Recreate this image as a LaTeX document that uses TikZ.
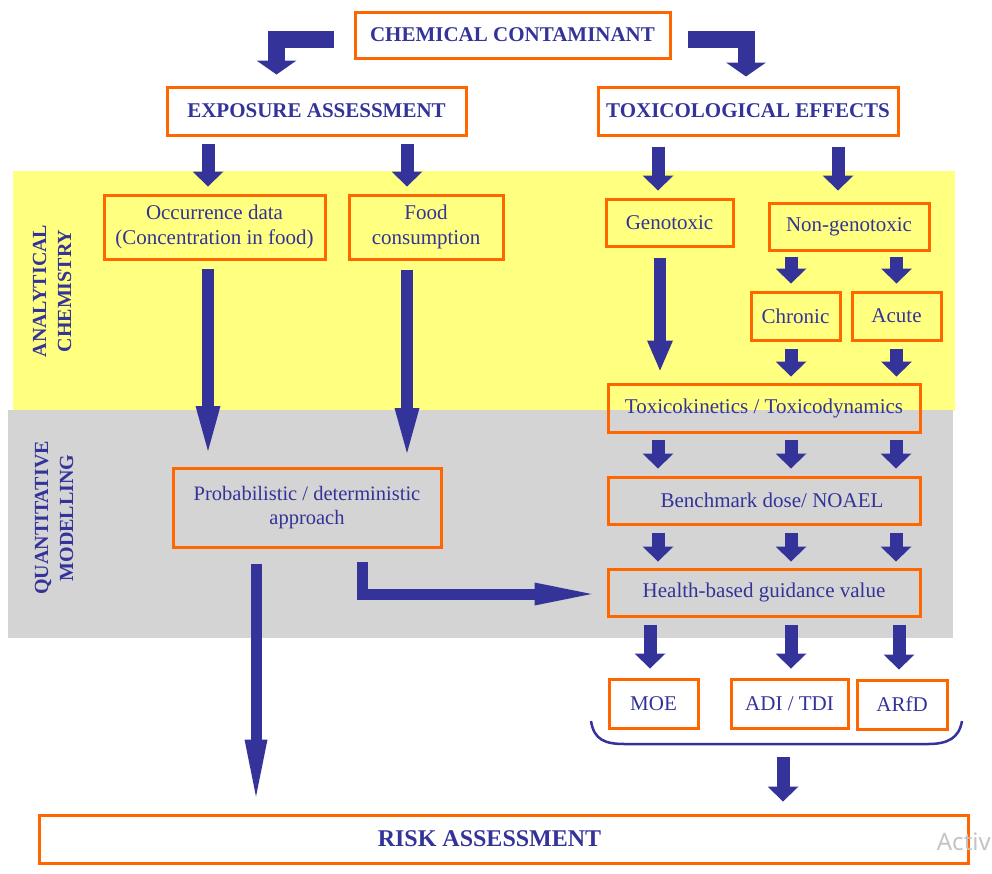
\documentclass[tikz,border=0pt]{standalone}
\usepackage{fontspec}
\setmainfont{Liberation Serif}
\newfontfamily\wmfont{Noto Sans}
\usetikzlibrary{arrows.meta,calc}
\definecolor{navy}{RGB}{51,51,153}
\definecolor{boxorange}{RGB}{255,102,0}
\definecolor{bandyellow}{RGB}{255,255,128}
\definecolor{bandgrey}{RGB}{212,212,212}
\definecolor{wmgrey}{RGB}{196,196,196}
\tikzset{
  box/.style={draw=boxorange, line width=3pt, inner sep=0pt, text=navy,
    align=center, font=\fontsize{21}{25}\selectfont},
  headbox/.style={box, font=\fontsize{21}{25}\selectfont\bfseries},
  bandlabel/.style={rotate=90, text=navy, align=center,
    font=\fontsize{20}{25}\selectfont\bfseries},
  % block arrows of various proportions
  bendarrow/.style={draw=navy, line width=17pt, line join=miter,
    -{Triangle[length=14pt,width=40pt,line width=0pt]}},
  shortarrow/.style={draw=navy, line width=13pt,
    -{Triangle[length=15pt,width=31pt,line width=0pt]}},
  longarrow/.style={draw=navy, line width=12pt,
    -{Triangle[length=45pt,width=25pt,line width=0pt]}},
  midarrow/.style={draw=navy, line width=12pt,
    -{Triangle[length=30pt,width=26pt,line width=0pt]}},
  thinarrow/.style={draw=navy, line width=11pt, line join=miter,
    -{Triangle[length=57pt,width=23pt,line width=0pt]}},
}
\begin{document}
\begin{tikzpicture}[x=1pt,y=-1pt]
\useasboundingbox (0,0) rectangle (992,873);
\fill[white] (0,0) rectangle (992,873);

% background bands
\fill[bandyellow] (13,171) rectangle (955,411);
\fill[bandgrey] (8,410) rectangle (953,638);

% band labels
\node[bandlabel] (labAC) at (52,291) {ANALYTICAL\\CHEMISTRY};
\node[bandlabel] (labQM) at (54,518) {QUANTITATIVE\\MODELLING};

% boxes
\node[headbox, minimum width=315pt, minimum height=46pt] (chem) at (512.5,35) {CHEMICAL CONTAMINANT};
\node[headbox, minimum width=299pt, minimum height=48pt] (expo) at (316.5,111) {EXPOSURE ASSESSMENT};
\node[headbox, minimum width=300pt, minimum height=48pt] (toxe) at (748,111) {TOXICOLOGICAL EFFECTS};

\node[box, minimum width=221pt, minimum height=64pt] (occ) at (214.5,227) {Occurrence data\\(Concentration in food)};
\node[box, minimum width=154pt, minimum height=64pt] (food) at (426,227) {Food\\consumption};
\node[box, minimum width=127pt, minimum height=47pt] (geno) at (669.5,222.5) {Genotoxic};
\node[box, minimum width=160pt, minimum height=47pt] (nong) at (849,226.5) {Non-genotoxic};
\node[box, minimum width=89pt, minimum height=48pt] (chron) at (795.5,316) {Chronic};
\node[box, minimum width=89pt, minimum height=48pt] (acute) at (896.5,316) {Acute};
\node[box, minimum width=312pt, minimum height=48pt] (tktd) at (764,408) {Toxicokinetics / Toxicodynamics};
\node[box, minimum width=312pt, minimum height=47pt] (bmd) at (764,500.5) {\hspace{16pt}Benchmark dose/ NOAEL};
\node[box, minimum width=312pt, minimum height=47pt] (hbgv) at (764,592.5) {Health-based guidance value};
\node[box, minimum width=89pt, minimum height=49pt] (moe) at (653.5,703.5) {MOE};
\node[box, minimum width=117pt, minimum height=49pt] (adi) at (789.5,703.5) {ADI / TDI};
\node[box, minimum width=90pt, minimum height=49pt] (arfd) at (902,704.5) {ARfD};
\node[box, minimum width=268pt, minimum height=79pt, font=\fontsize{20.5}{24}\selectfont] (prob) at (307,508) {Probabilistic / deterministic\\approach};
\node[headbox, minimum width=929pt, minimum height=48pt, font=\fontsize{24}{28}\selectfont\bfseries] (risk) at (503.5,839) {RISK ASSESSMENT\hspace{28pt}};

% brace under the reference values
\coordinate (braceL) at (591,721);
\coordinate (braceR) at (962,721);
\coordinate (braceM) at (776,744);
\draw[navy, line width=2.5pt]
  (braceL) .. controls (594,740) and (605,744) .. (625,744)
  -- (928,744) .. controls (948,744) and (959,738) .. (braceR);

% connectors
\draw[bendarrow] ($(chem.west)+(-20,4.5)$) -| ($(expo.north)+(-40,-11)$);
\draw[bendarrow] ($(chem.east)+(16,4.5)$) -| ($(toxe.north)+(-2,-9)$);

\draw[shortarrow] ($(expo.south)+(-108.5,7)$) -- ($(occ.north)+(-6.5,-7)$);
\draw[shortarrow] ($(expo.south)+(90.5,7)$) -- ($(food.north)+(-19,-7)$);
\draw[shortarrow] ($(toxe.south)+(-90,10)$) -- ($(geno.north)+(-11.5,-7)$);
\draw[shortarrow] ($(toxe.south)+(90,10)$) -- ($(nong.north)+(-11,-11)$);

\draw[longarrow] ($(occ.south)+(-6.5,8)$) -- ($(occ.south |- prob.north)+(-6.5,-16)$);
\draw[longarrow] ($(food.south)+(-19,9)$) -- ($(food.south |- prob.north)+(-19,-14)$);

\draw[midarrow] ($(geno.south)+(-9.5,10)$) -- ($(geno.south |- tktd.north)+(-9.5,-12)$);
\draw[shortarrow] ($(nong.south -| chron.north)+(-4.5,5)$) -- ($(chron.north)+(-4.5,-7)$);
\draw[shortarrow] ($(nong.south -| acute.north)+(0,5)$) -- ($(acute.north)+(0,-7)$);
\draw[shortarrow] ($(chron.south)+(-4.5,7)$) -- ($(chron.south |- tktd.north)+(-4.5,-6)$);
\draw[shortarrow] ($(acute.south)+(0,7)$) -- ($(acute.south |- tktd.north)+(0,-6)$);

\foreach \dx in {-106,27,132}{
  \draw[shortarrow] ($(tktd.south)+(\dx,6)$) -- ($(bmd.north)+(\dx,-7)$);
  \draw[shortarrow] ($(bmd.south)+(\dx,7)$) -- ($(hbgv.north)+(\dx,-6)$);
}

\draw[shortarrow] ($(hbgv.south -| moe.north)+(-3.5,7)$) -- ($(moe.north)+(-3.5,-9)$);
\draw[shortarrow] ($(hbgv.south -| adi.north)+(1.5,7)$) -- ($(adi.north)+(1.5,-9)$);
\draw[shortarrow] ($(hbgv.south -| arfd.north)+(-3,7)$) -- ($(arfd.north)+(-3,-9)$);

\draw[shortarrow] ($(braceM)+(7,13)$) -- ($(risk.north -| braceM)+(7,-12)$);

\draw[thinarrow] ($(prob.south)+(-51,15)$) -- ($(prob.south |- risk.north)+(-51,-17)$);
\draw[thinarrow] ($(prob.south)+(55,13)$) |- ($(hbgv.west)+(-15,1.5)$);

% screen watermark at the lower right corner
\node[anchor=base east, inner sep=0pt, text=wmgrey, font=\wmfont\fontsize{24}{28}\selectfont] (wm1) at (991,850) {Activ};
\end{tikzpicture}
\end{document}
